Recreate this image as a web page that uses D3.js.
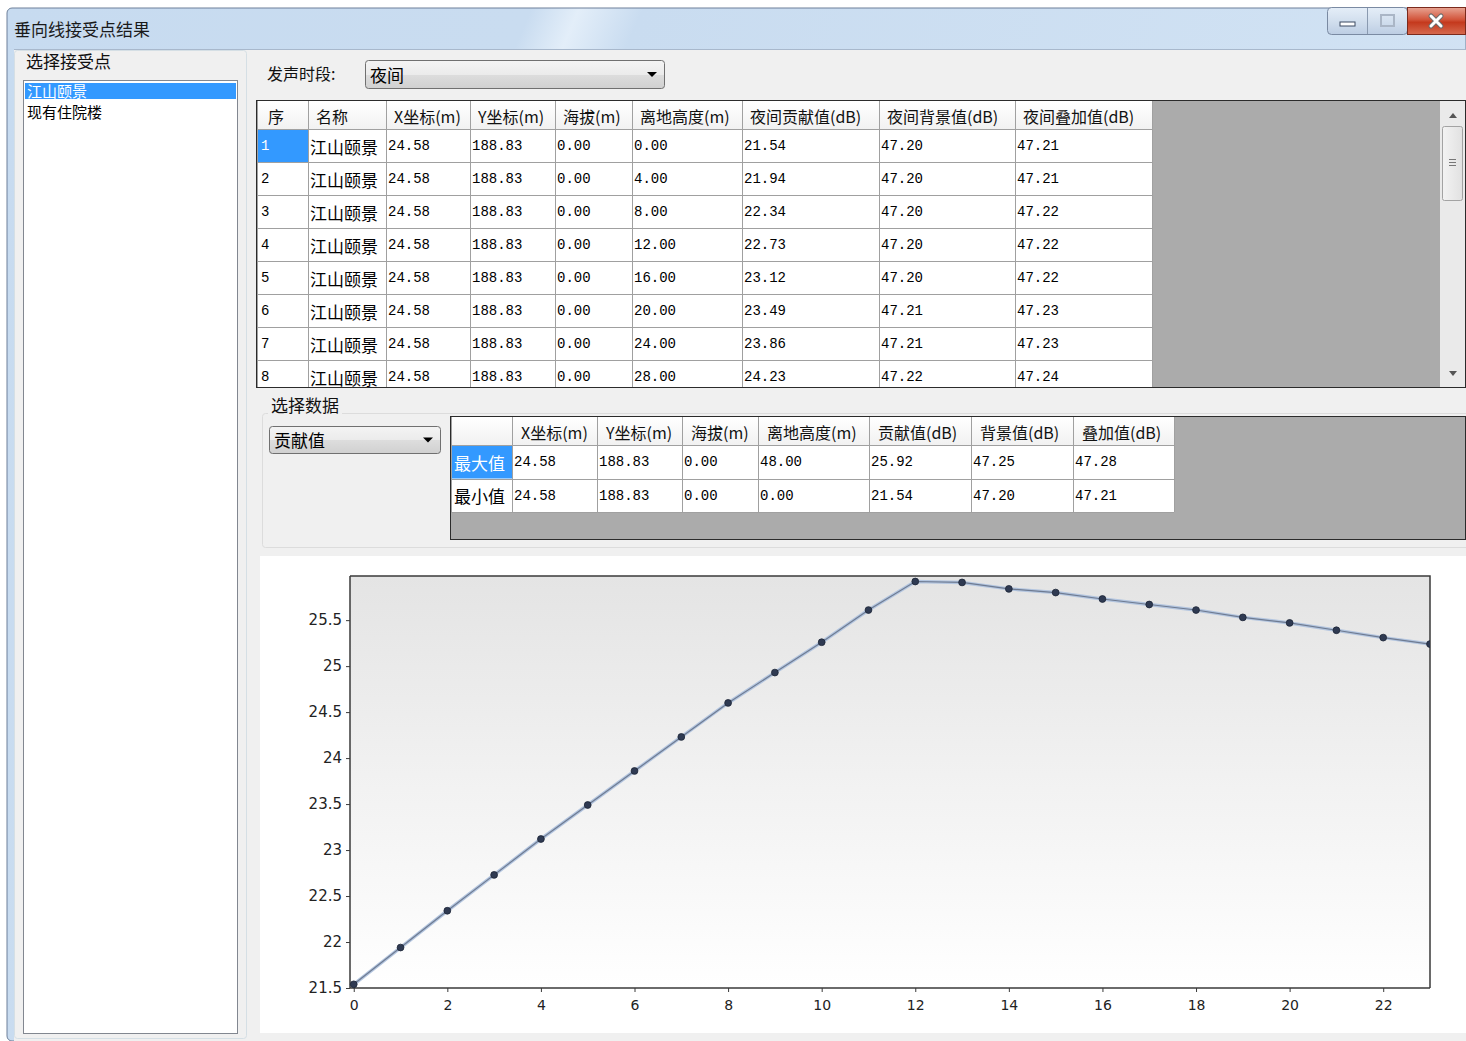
<!DOCTYPE html>
<html>
<head>
<meta charset="utf-8">
<script src="https://cdn.jsdelivr.net/npm/d3@7/dist/d3.min.js"></script>
<style>
html,body{margin:0;padding:0;background:#fff;overflow:hidden;}
svg{display:block;}
</style>
</head>
<body>
<script>
// ---------- DATA ----------
const windowTitle = "垂向线接受点结果";
const receiverGroupLabel = "选择接受点";
const receivers = ["江山颐景", "现有住院楼"];
const periodLabel = "发声时段:";
const periodValue = "夜间";
const dataGroupLabel = "选择数据";
const dataSelectValue = "贡献值";

const gridHeaders = ["序", "名称", "X坐标(m)", "Y坐标(m)", "海拔(m)", "离地高度(m)", "夜间贡献值(dB)", "夜间背景值(dB)", "夜间叠加值(dB)"];
const rowIndex = ["1", "2", "3", "4", "5", "6", "7", "8"];
const rowName = ["江山颐景", "江山颐景", "江山颐景", "江山颐景", "江山颐景", "江山颐景", "江山颐景", "江山颐景"];
const rowX = ["24.58", "24.58", "24.58", "24.58", "24.58", "24.58", "24.58", "24.58"];
const rowY = ["188.83", "188.83", "188.83", "188.83", "188.83", "188.83", "188.83", "188.83"];
const rowElev = ["0.00", "0.00", "0.00", "0.00", "0.00", "0.00", "0.00", "0.00"];
const rowHeight = ["0.00", "4.00", "8.00", "12.00", "16.00", "20.00", "24.00", "28.00"];
const rowContrib = ["21.54", "21.94", "22.34", "22.73", "23.12", "23.49", "23.86", "24.23"];
const rowBackground = ["47.20", "47.20", "47.20", "47.20", "47.20", "47.21", "47.21", "47.22"];
const rowTotal = ["47.21", "47.21", "47.22", "47.22", "47.22", "47.23", "47.23", "47.24"];

const statHeaders = ["", "X坐标(m)", "Y坐标(m)", "海拔(m)", "离地高度(m)", "贡献值(dB)", "背景值(dB)", "叠加值(dB)"];
const statMax = ["最大值", "24.58", "188.83", "0.00", "48.00", "25.92", "47.25", "47.28"];
const statMin = ["最小值", "24.58", "188.83", "0.00", "0.00", "21.54", "47.20", "47.21"];

// chart series: point index vs contribution value (dB)
const chartX = [0, 1, 2, 3, 4, 5, 6, 7, 8, 9, 10, 11, 12, 13, 14, 15, 16, 17, 18, 19, 20, 21, 22, 23];
const chartY = [21.54, 21.94, 22.34, 22.73, 23.12, 23.49, 23.86, 24.23, 24.60, 24.93, 25.26, 25.61,
                25.92, 25.91, 25.84, 25.80, 25.73, 25.67, 25.61, 25.53, 25.47, 25.39, 25.31, 25.24];
const xTickValues = [0, 2, 4, 6, 8, 10, 12, 14, 16, 18, 20, 22];
const yTickValues = [21.5, 22, 22.5, 23, 23.5, 24, 24.5, 25, 25.5];

// ---------- DRAW ----------
const W = 1466, H = 1041;
const CJK = "'Noto Sans CJK SC','Microsoft YaHei',sans-serif";
const MONO = "'Liberation Mono','DejaVu Sans Mono',monospace";

const svg = d3.select("body").append("svg").attr("width", W).attr("height", H);
const defs = svg.append("defs");

function lg(id, stops, x2 = 0, y2 = 1) {
  const g = defs.append("linearGradient").attr("id", id).attr("x1", 0).attr("y1", 0).attr("x2", x2).attr("y2", y2);
  stops.forEach(s => g.append("stop").attr("offset", s[0]).attr("stop-color", s[1]));
}
lg("titleStreak", [[0, "#c7dbf0"], [0.33, "#c9dcf0"], [0.36, "#e3eef9"], [0.4, "#c9dcf0"], [1, "#d2e3f4"]], 1, 0.3);
lg("comboGrad", [[0, "#f4f4f4"], [0.5, "#ebebeb"], [0.51, "#dddddd"], [1, "#d0d0d0"]]);
lg("closeGrad", [[0, "#e8a493"], [0.45, "#d2543a"], [0.55, "#c4391d"], [1, "#d66a4f"]]);
lg("btnGrad", [[0, "#e5eef8"], [0.5, "#d2dfee"], [1, "#bccde3"]]);
lg("plotGrad", [[0, "#e4e4e4"], [1, "#ffffff"]]);
lg("headGrad", [[0, "#ffffff"], [1, "#f1f1f1"]]);
lg("sbThumb", [[0, "#f3f3f3"], [1, "#e1e1e1"]], 1, 0);

// window frame
svg.append("rect").attr("x", 0).attr("y", 0).attr("width", W).attr("height", H).attr("fill", "#ffffff");
svg.append("rect").attr("x", 7).attr("y", 8).attr("width", W - 7).attr("height", H - 8).attr("fill", "url(#titleStreak)")
  .attr("stroke", "#6d7f99").attr("stroke-width", 1).attr("rx", 5);
svg.append("rect").attr("x", 14).attr("y", 49).attr("width", W - 14).attr("height", H - 49).attr("fill", "#f0f0f0");
svg.append("line").attr("x1", 14).attr("x2", W).attr("y1", 49.5).attr("y2", 49.5).attr("stroke", "#a8b8cc");

svg.append("text").attr("x", 14).attr("y", 28).attr("dominant-baseline", "central")
  .attr("font-family", CJK).attr("font-size", 17).attr("fill", "#1a1a1a").text(windowTitle);

// caption buttons
const cb = svg.append("g");
cb.append("rect").attr("x", 1327.5).attr("y", 7.5).attr("width", 80).attr("height", 27).attr("rx", 4)
  .attr("fill", "url(#btnGrad)").attr("stroke", "#7a8aa2");
cb.append("line").attr("x1", 1367.5).attr("x2", 1367.5).attr("y1", 8).attr("y2", 34).attr("stroke", "#8a9ab0");
cb.append("rect").attr("x", 1340).attr("y", 22).attr("width", 15).attr("height", 4).attr("fill", "#ffffff").attr("stroke", "#3d4b62");
cb.append("rect").attr("x", 1381).attr("y", 15).attr("width", 13).attr("height", 11).attr("fill", "none").attr("stroke", "#aab6c6").attr("stroke-width", 2);
cb.append("rect").attr("x", 1407.5).attr("y", 7.5).attr("width", 58).attr("height", 27).attr("fill", "url(#closeGrad)").attr("stroke", "#7b2a1c");
cb.append("path").attr("d", "M1431,16 L1441,26 M1441,16 L1431,26").attr("stroke", "#6b6b6b").attr("stroke-width", 5).attr("stroke-linecap", "round");
cb.append("path").attr("d", "M1431,16 L1441,26 M1441,16 L1431,26").attr("stroke", "#ffffff").attr("stroke-width", 3).attr("stroke-linecap", "round");

// left group box
svg.append("rect").attr("x", 14.5).attr("y", 50.5).attr("width", 232).attr("height", 988).attr("fill", "none").attr("stroke", "#d5dfe5").attr("rx", 3);
svg.append("text").attr("x", 26).attr("y", 60).attr("dominant-baseline", "central")
  .attr("font-family", CJK).attr("font-size", 17).attr("fill", "#111").text(receiverGroupLabel);
svg.append("rect").attr("x", 23.5).attr("y", 80.5).attr("width", 214).attr("height", 953).attr("fill", "#ffffff").attr("stroke", "#828790");
svg.append("rect").attr("x", 25).attr("y", 83).attr("width", 211).attr("height", 16).attr("fill", "#3399ff");
svg.selectAll("text.recv").data(receivers).join("text").attr("class", "recv")
  .attr("x", 27).attr("y", (d, i) => 90 + i * 21).attr("dominant-baseline", "central")
  .attr("font-family", CJK).attr("font-size", 15).attr("fill", (d, i) => i === 0 ? "#ffffff" : "#000").text(d => d);

// period combo
svg.append("text").attr("x", 267).attr("y", 73).attr("dominant-baseline", "central")
  .attr("font-family", CJK).attr("font-size", 16).attr("fill", "#111").text(periodLabel);
function combo(x, y, w, h, label) {
  const g = svg.append("g");
  g.append("rect").attr("x", x + 0.5).attr("y", y + 0.5).attr("width", w).attr("height", h).attr("rx", 3)
    .attr("fill", "url(#comboGrad)").attr("stroke", "#707070");
  g.append("text").attr("x", x + 5).attr("y", y + h / 2).attr("dominant-baseline", "central")
    .attr("font-family", CJK).attr("font-size", 17).attr("fill", "#000").text(label);
  const ax = x + w - 12, ay = y + h / 2;
  g.append("path").attr("d", `M${ax - 5},${ay - 2} L${ax + 5},${ay - 2} L${ax},${ay + 3} Z`).attr("fill", "#000");
}
combo(365, 60, 299, 28, periodValue);

// main grid
const colX = [257, 308, 386, 470, 555, 632, 742, 879, 1015, 1152];
const gridTop = 100, headH = 29, rowH = 33, gridBottom = 387;
const g1 = svg.append("g");
g1.append("rect").attr("x", 256.5).attr("y", gridTop + 0.5).attr("width", W - 257).attr("height", gridBottom - gridTop).attr("fill", "#ababab").attr("stroke", "#2b2b2b");
const clip1 = defs.append("clipPath").attr("id", "clip1");
clip1.append("rect").attr("x", 257).attr("y", gridTop + 1).attr("width", 1183).attr("height", gridBottom - gridTop - 1);
const gc = g1.append("g").attr("clip-path", "url(#clip1)");
gc.append("rect").attr("x", colX[0]).attr("y", gridTop + 1).attr("width", colX[9] - colX[0]).attr("height", headH).attr("fill", "url(#headGrad)");
gc.append("rect").attr("x", colX[0]).attr("y", gridTop + 1 + headH).attr("width", colX[9] - colX[0]).attr("height", 300).attr("fill", "#ffffff");
gridHeaders.forEach((h, i) => {
  gc.append("text").attr("x", colX[i] + (i === 0 ? 11 : 8)).attr("y", gridTop + 16).attr("dominant-baseline", "central")
    .attr("font-family", CJK).attr("font-size", 16).attr("fill", "#111").text(h);
});
const rowCols = [rowIndex, rowName, rowX, rowY, rowElev, rowHeight, rowContrib, rowBackground, rowTotal];
const rowsY = rowIndex.map((d, i) => gridTop + headH + i * rowH);
gc.append("rect").attr("x", colX[0]).attr("y", rowsY[0] + 1).attr("width", colX[1] - colX[0]).attr("height", rowH - 1).attr("fill", "#3399ff");
rowCols.forEach((arr, c) => {
  arr.forEach((v, r) => {
    const isCJK = c === 1;
    gc.append("text").attr("x", colX[c] + (c === 0 ? 4 : 2)).attr("y", rowsY[r] + 17).attr("dominant-baseline", "central")
      .attr("font-family", isCJK ? CJK : MONO).attr("font-size", isCJK ? 17 : 14)
      .attr("fill", (c === 0 && r === 0) ? "#ffffff" : "#000").text(v);
  });
});
colX.forEach(x => gc.append("line").attr("x1", x + 0.5).attr("x2", x + 0.5).attr("y1", gridTop).attr("y2", gridBottom).attr("stroke", "#a0a0a0"));
gc.append("line").attr("x1", colX[0]).attr("x2", colX[9]).attr("y1", gridTop + headH + 0.5).attr("y2", gridTop + headH + 0.5).attr("stroke", "#a0a0a0");
rowsY.forEach((y, i) => { if (i > 0) gc.append("line").attr("x1", colX[0]).attr("x2", colX[9]).attr("y1", y + 0.5).attr("y2", y + 0.5).attr("stroke", "#a0a0a0"); });

// scrollbar
const sb = g1.append("g");
sb.append("rect").attr("x", 1440).attr("y", gridTop + 1).attr("width", 25).attr("height", gridBottom - gridTop - 1).attr("fill", "#eaeaea");
sb.append("rect").attr("x", 1442.5).attr("y", 126.5).attr("width", 20).attr("height", 74).attr("rx", 2).attr("fill", "url(#sbThumb)").attr("stroke", "#a3a3a3");
[159, 162, 165].forEach(y => sb.append("line").attr("x1", 1449).attr("x2", 1456).attr("y1", y + 0.5).attr("y2", y + 0.5).attr("stroke", "#777"));
sb.append("path").attr("d", "M1449,118 L1457,118 L1453,113 Z").attr("fill", "#555");
sb.append("path").attr("d", "M1449,371 L1457,371 L1453,376 Z").attr("fill", "#555");

// data group
svg.append("rect").attr("x", 262.5).attr("y", 413.5).attr("width", 1210).attr("height", 134).attr("fill", "none").attr("stroke", "#dcdcdc").attr("rx", 3);
svg.append("rect").attr("x", 268).attr("y", 396).attr("width", 74).attr("height", 18).attr("fill", "#f0f0f0");
svg.append("text").attr("x", 271).attr("y", 404).attr("dominant-baseline", "central")
  .attr("font-family", CJK).attr("font-size", 17).attr("fill", "#111").text(dataGroupLabel);
combo(269, 426, 171, 27, dataSelectValue);

// stats grid
const sX = [451, 512, 597, 682, 758, 869, 971, 1073, 1174];
const sTop = 417, sHead = 28, sRow = 33.5, sBottom = 539;
const g2 = svg.append("g");
g2.append("rect").attr("x", 450.5).attr("y", 416.5).attr("width", W - 451).attr("height", sBottom - 416).attr("fill", "#ababab").attr("stroke", "#2b2b2b");
g2.append("rect").attr("x", sX[0]).attr("y", sTop).attr("width", sX[8] - sX[0]).attr("height", sHead).attr("fill", "url(#headGrad)");
g2.append("rect").attr("x", sX[0]).attr("y", sTop + sHead).attr("width", sX[8] - sX[0]).attr("height", sRow * 2).attr("fill", "#ffffff");
g2.append("rect").attr("x", sX[0]).attr("y", sTop + sHead + 1).attr("width", sX[1] - sX[0]).attr("height", sRow - 1).attr("fill", "#3399ff");
statHeaders.forEach((h, i) => {
  g2.append("text").attr("x", sX[i] + 9).attr("y", sTop + 15).attr("dominant-baseline", "central")
    .attr("font-family", CJK).attr("font-size", 16).attr("fill", "#111").text(h);
});
[statMax, statMin].forEach((row, r) => {
  row.forEach((v, c) => {
    const isCJK = c === 0;
    g2.append("text").attr("x", sX[c] + (c === 0 ? 3 : 2)).attr("y", sTop + sHead + r * sRow + 17).attr("dominant-baseline", "central")
      .attr("font-family", isCJK ? CJK : MONO).attr("font-size", isCJK ? 17 : 14)
      .attr("fill", (c === 0 && r === 0) ? "#ffffff" : "#000").text(v);
  });
});
sX.forEach(x => g2.append("line").attr("x1", x + 0.5).attr("x2", x + 0.5).attr("y1", sTop).attr("y2", sTop + sHead + sRow * 2).attr("stroke", "#a0a0a0"));
[sTop + sHead, sTop + sHead + sRow, sTop + sHead + 2 * sRow].forEach(y =>
  g2.append("line").attr("x1", sX[0]).attr("x2", sX[8]).attr("y1", Math.round(y) + 0.5).attr("y2", Math.round(y) + 0.5).attr("stroke", "#a0a0a0"));

// ---------- CHART ----------
svg.append("rect").attr("x", 260).attr("y", 556).attr("width", W - 260).attr("height", 477).attr("fill", "#ffffff");
const plot = { left: 350, top: 576, right: 1430, bottom: 988 };
const x = d3.scaleLinear().domain([-0.08, 23]).range([plot.left, plot.right]);
const y = d3.scaleLinear().domain([21.5, 25.98]).range([plot.bottom, plot.top]);

svg.append("rect").attr("x", plot.left).attr("y", plot.top).attr("width", plot.right - plot.left).attr("height", plot.bottom - plot.top)
  .attr("fill", "url(#plotGrad)");
svg.append("path").attr("d", `M${plot.left},${plot.top} L${plot.right},${plot.top} L${plot.right},${plot.bottom}`)
  .attr("fill", "none").attr("stroke", "#3a3a3a").attr("stroke-width", 1.5);

const xAxis = d3.axisBottom(x).tickValues(xTickValues).tickSize(4).tickSizeOuter(0).tickPadding(8).tickFormat(d => String(d));
const yAxis = d3.axisLeft(y).tickValues(yTickValues).tickSize(4).tickSizeOuter(0).tickPadding(4).tickFormat(d => String(d));
const gx = svg.append("g").attr("transform", `translate(0,${plot.bottom})`).call(xAxis);
const gy = svg.append("g").attr("transform", `translate(${plot.left},0)`).call(yAxis);
[gx, gy].forEach(g => {
  g.select(".domain").attr("stroke", "#3a3a3a").attr("stroke-width", 1.5);
  g.selectAll(".tick line").attr("stroke", "#3a3a3a");
  g.selectAll(".tick text").attr("font-family", "'DejaVu Sans',Verdana,sans-serif").attr("font-size", 15).attr("fill", "#222");
});
gx.selectAll(".tick text").attr("font-size", 14);
gx.select(".domain").attr("d", `M${plot.left},0H${plot.right}`);
gy.select(".domain").attr("d", `M0,${plot.top}V${plot.bottom}`);

const pts = chartX.map((d, i) => [d, chartY[i]]);
const line = d3.line().x(d => x(d[0])).y(d => y(d[1]));
const clipP = defs.append("clipPath").attr("id", "clipPlot");
clipP.append("rect").attr("x", plot.left - 6).attr("y", plot.top - 6).attr("width", plot.right - plot.left + 6).attr("height", plot.bottom - plot.top + 12);
const pg = svg.append("g").attr("clip-path", "url(#clipPlot)");
pg.append("path").datum(pts).attr("d", line).attr("fill", "none").attr("stroke", "#b3c5df").attr("stroke-width", 3.5);
pg.append("path").datum(pts).attr("d", line).attr("fill", "none").attr("stroke", "#6e7b92").attr("stroke-width", 1.2);
pg.selectAll("circle").data(pts).join("circle")
  .attr("cx", d => x(d[0])).attr("cy", d => y(d[1])).attr("r", 3.4)
  .attr("fill", "#2f3a52").attr("stroke", "#1c2436").attr("stroke-width", 0.8);
</script>
</body>
</html>
